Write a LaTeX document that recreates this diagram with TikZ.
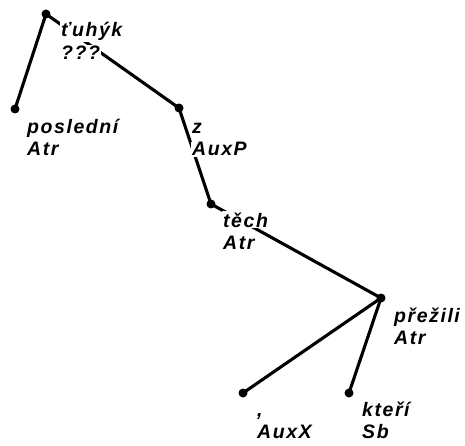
\documentclass[tikz,border=0pt]{standalone}
\usepackage{fontspec}
\newfontfamily\labfont[LetterSpace=8]{Liberation Sans}
\begin{document}
\begin{tikzpicture}[x=1pt,y=-1pt,
  edge/.style={line width=3.1pt},
  dot/.style={circle,fill=black,inner sep=0pt,minimum size=9pt},
  lab/.style={anchor=base west,fill=white,inner sep=1pt,font=\labfont\bfseries\itshape\fontsize{19.5}{22}\selectfont}]
\useasboundingbox (0,0) rectangle (465,446);
% dots
\coordinate (r) at (46,14);
\coordinate (p) at (15,109);
\coordinate (z) at (179,108);
\coordinate (t) at (211,204);
\coordinate (pr) at (381,298);
\coordinate (c) at (243,393);
\coordinate (k) at (349,393);
% edges
\draw[edge] (r) -- (p);
\draw[edge] (r) -- (z);
\draw[edge] (z) -- (t);
\draw[edge] (t) -- (pr);
\draw[edge] (pr) -- (c);
\draw[edge] (pr) -- (k);
% dot nodes
\foreach \n in {r,p,z,t,pr,c,k} \node[dot] (d\n) at (\n) {};
% labels
\node[lab] (r1) at (60,37) {ťuhýk};
\node[lab] (r2) at (60,60) {???};
\node[lab] (p1) at (26,134) {poslední};
\node[lab] (p2) at (26,156) {Atr};
\node[lab] (z1) at (191,134) {z};
\node[lab] (z2) at (191,156) {AuxP};
\node[lab] (t1) at (222,227) {těch};
\node[lab] (t2) at (222,249) {Atr};
\node[lab] (pr1) at (393,322) {přežili};
\node[lab] (pr2) at (393,344) {Atr};
\node[lab] (c1) at (256,416) {,};
\node[lab] (c2) at (256,438) {AuxX};
\node[lab] (k1) at (361,416) {kteří};
\node[lab] (k2) at (361,438) {Sb};
\end{tikzpicture}
\end{document}
